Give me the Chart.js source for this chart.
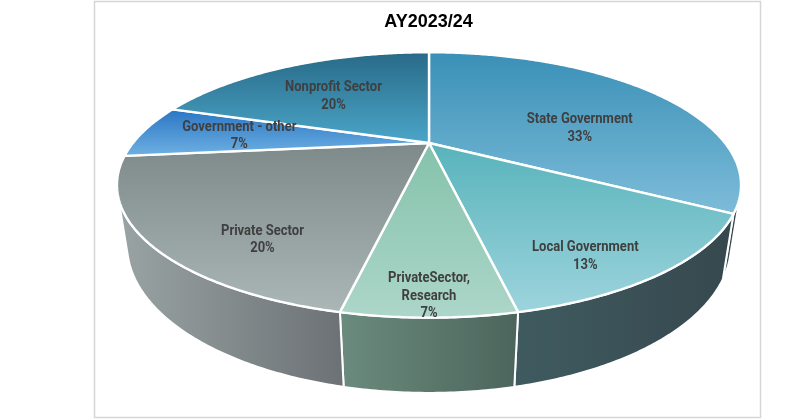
<!DOCTYPE html>
<html><head><meta charset="utf-8">
<script src="https://cdn.jsdelivr.net/npm/chart.js@4.4.1/dist/chart.umd.min.js"></script>
<style>html,body{margin:0;padding:0;background:#fff;}#wrap{width:800px;height:420px;position:relative;}</style>
</head><body><div id="wrap"><canvas id="c" width="800" height="420"></canvas></div>
<script>
const chartTitle = 'AY2023/24';
const categories = ['State Government', 'Local Government', ['PrivateSector,', 'Research'], 'Private Sector', 'Government - other', 'Nonprofit Sector'];
const values = [5, 2, 1, 3, 1, 3];
const topDark   = ['#3a90b7', '#58b3bb', '#84c2ab', '#7d8a89', '#2a76c4', '#286a88'];
const topLight  = ['#7dbcd9', '#9dd4dd', '#acd6c9', '#abb7b7', '#6eb0e2', '#4ba5c8'];
const sideLeft  = ['#3b5358', '#3f5b60', '#6b8b7e', '#9aa4a4', '#6a86a0', '#4a6a78'];
const sideRight = ['#34474d', '#36484e', '#4c655c', '#6c7175', '#50708a', '#3a5460'];

// view of the tilted disc (3D projection), positions in code, not data
const V = { elev: 23.8 * Math.PI / 180, D: 2.895, F: 857, H: 0.218, cx: 429, cy: 143 };
const se = Math.sin(V.elev), ce = Math.cos(V.elev);
function proj(th, r, Y) {
  const X = r * Math.cos(th), Z = r * Math.sin(th);
  const w = V.D - Y * se - Z * ce;
  return [V.cx + V.F * X / w, V.cy - V.F * (Y * ce - Z * se) / w];
}
function arcPts(a0, a1, Y) {
  const n = Math.max(2, Math.ceil(Math.abs(a1 - a0) / 0.01));
  const pts = [];
  for (let i = 0; i <= n; i++) pts.push(proj(a0 + (a1 - a0) * i / n, 1, Y));
  return pts;
}
function polyInfo(pts) {
  let A = 0, cx = 0, cy = 0;
  for (let i = 0; i < pts.length; i++) {
    const [x0, y0] = pts[i], [x1, y1] = pts[(i + 1) % pts.length];
    const c = x0 * y1 - x1 * y0;
    A += c; cx += (x0 + x1) * c; cy += (y0 + y1) * c;
  }
  A /= 2;
  return { A: Math.abs(A), x: cx / (6 * A), y: cy / (6 * A) };
}
function bounds(pts) {
  let x0 = 1e9, x1 = -1e9, y0 = 1e9, y1 = -1e9;
  pts.forEach(([x, y]) => { x0 = Math.min(x0, x); x1 = Math.max(x1, x); y0 = Math.min(y0, y); y1 = Math.max(y1, y); });
  return { x0, x1, y0, y1 };
}
function pathOf(ctx, pts) {
  ctx.beginPath();
  pts.forEach(([x, y], i) => i ? ctx.lineTo(x, y) : ctx.moveTo(x, y));
  ctx.closePath();
}

const frame = {
  id: 'frame',
  beforeDraw(chart) {
    const ctx = chart.ctx;
    ctx.save();
    ctx.strokeStyle = '#d6d6d6';
    ctx.lineWidth = 1.5;
    ctx.strokeRect(94.5, 1.5, 666, 416);
    ctx.restore();
  }
};

const pie3d = {
  id: 'pie3d',
  beforeDatasetsDraw(chart) {
    const ctx = chart.ctx;
    const meta = chart.getDatasetMeta(0);
    const total = values.reduce((a, b) => a + b, 0);
    const thVis = Math.asin(1 / (V.D * ce));
    const sides = [], tops = [];
    meta.data.forEach((arc, i) => {
      const s = arc.startAngle, e = arc.endAngle;
      const a0 = Math.max(s, thVis), a1 = Math.min(e, Math.PI - thVis);
      let side = null;
      if (a1 > a0) {
        const topA = arcPts(a0, a1, 0), botA = arcPts(a0, a1, -V.H).reverse();
        side = topA.concat(botA);
      }
      const top = [proj(0, 0, 0)].concat(arcPts(s, e, 0));
      sides.push(side); tops.push(top);
    });
    ctx.save();
    ctx.lineJoin = 'round';
    sides.forEach((pts, i) => {
      if (!pts) return;
      const b = bounds(pts);
      const g = ctx.createLinearGradient(b.x0, 0, b.x1, 0);
      g.addColorStop(0, sideLeft[i]); g.addColorStop(1, sideRight[i]);
      pathOf(ctx, pts);
      ctx.fillStyle = g; ctx.fill();
      ctx.strokeStyle = '#ffffff'; ctx.lineWidth = 2; ctx.stroke();
    });
    tops.forEach((pts, i) => {
      const b = bounds(pts);
      const g = ctx.createLinearGradient(0, b.y0, 0, b.y1);
      g.addColorStop(0, topDark[i]); g.addColorStop(1, topLight[i]);
      pathOf(ctx, pts);
      ctx.fillStyle = g; ctx.fill();
      ctx.strokeStyle = '#ffffff'; ctx.lineWidth = 2.4; ctx.stroke();
    });
    // labels at weighted centroid of visible faces
    ctx.fillStyle = '#3f3f3f';
    ctx.font = "bold 14px Roboto, 'Liberation Sans', Arial, sans-serif";
    ctx.textAlign = 'center';
    ctx.textBaseline = 'middle';
    const sideW = 0.8;
    tops.forEach((pts, i) => {
      const t = polyInfo(pts);
      let A = t.A, x = t.x * t.A, y = t.y * t.A;
      if (sides[i]) {
        const sd = polyInfo(sides[i]);
        A += sd.A * sideW; x += sd.x * sd.A * sideW; y += sd.y * sd.A * sideW;
      }
      x /= A; y /= A;
      const name = chart.data.labels[i];
      const lines = (Array.isArray(name) ? name.slice() : [name]);
      lines.push(Math.round(values[i] / total * 100) + '%');
      const lh = 17.6;
      const y0 = y - (lines.length - 1) * lh / 2;
      lines.forEach((l, k) => {
        ctx.save();
        ctx.translate(x, y0 + k * lh);
        ctx.scale(0.93, 1);
        ctx.fillText(l, 0, 0);
        ctx.restore();
      });
    });
    ctx.restore();
    return false;
  }
};

new Chart(document.getElementById('c'), {
  type: 'pie',
  data: { labels: categories, datasets: [{ data: values, backgroundColor: topLight, borderColor: '#fff' }] },
  options: {
    responsive: false,
    animation: false,
    devicePixelRatio: 1,
    layout: { padding: { left: 94, right: 37, top: 0, bottom: 0 } },
    plugins: {
      legend: { display: false },
      tooltip: { enabled: false },
      title: { display: true, text: chartTitle, color: '#000', font: { size: 18, weight: 'bold', family: "'Liberation Sans', Arial, sans-serif" }, padding: { top: 11, bottom: 10 } }
    }
  },
  plugins: [frame, pie3d]
});
</script>
</body></html>
